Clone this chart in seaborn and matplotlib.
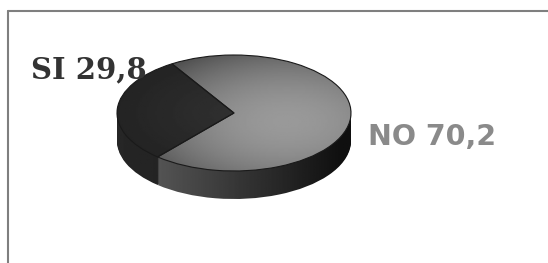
import numpy as np
import matplotlib
matplotlib.use("Agg")
import matplotlib.pyplot as plt
from matplotlib.lines import Line2D
import seaborn as sns

# data
categories = ["SI", "NO"]
values = [29.8, 70.2]
label_colors = ["#333333", "#8a8a8a"]
label_fonts = ["DejaVu Serif", "DejaVu Sans"]

W, H = 548, 263

# pie geometry in pixels (top face ellipse)
cx, cy = 234, 113
rx, ry = 117, 58
depth = 28
start = 122


def top_shade(X, Y, i):
    if i == 0:
        return 0.19 - 0.05 * np.hypot(X, Y)
    d2 = (X - 0.45) ** 2 + (Y + 0.15) ** 2
    return 0.60 - 0.15 * d2


def side_shade(X, Y, i):
    if i == 0:
        return 0.15 - 0.03 * (X + 1)
    return np.clip(0.32 - 0.17 * (X + 0.6), 0.06, 1)


def main():
    sns.set_style("white")

    fig = plt.figure(figsize=(W / 100, H / 100), dpi=100)
    ax = fig.add_axes([0, 0, 1, 1])

    xlim = (-cx / rx, (W - cx) / rx)
    ylim = (-(H - cy) / ry, cy / ry)
    gx = np.linspace(*xlim, 400)
    gy = np.linspace(*ylim, 200)
    X, Y = np.meshgrid(gx, gy)
    extent = (xlim[0], xlim[1], ylim[0], ylim[1])

    # side of the cylinder: stacked copies of the pie, shaded by gradient
    dz = 1.0 / ry
    for k in range(depth, 0, -1):
        wedges, _ = ax.pie(values, startangle=start, counterclock=True,
                           radius=1, center=(0, -k * dz), frame=True,
                           wedgeprops=dict(facecolor="none", edgecolor="none"))
        for i, w in enumerate(wedges):
            img = ax.imshow(side_shade(X, Y, i), cmap="gray", vmin=0, vmax=1,
                            extent=extent, origin="lower", aspect="auto")
            img.set_clip_path(w)

    # top face
    wedges, _ = ax.pie(values, startangle=start, counterclock=True,
                       radius=1, center=(0, 0), frame=True,
                       wedgeprops=dict(facecolor="none", edgecolor="#1a1a1a",
                                       linewidth=0.8))
    for i, w in enumerate(wedges):
        img = ax.imshow(top_shade(X, Y, i), cmap="gray", vmin=0, vmax=1,
                        extent=extent, origin="lower", aspect="auto")
        img.set_clip_path(w)

    ax.set_aspect("auto")
    ax.set_xlim(*xlim)
    ax.set_ylim(*ylim)
    ax.set_axis_off()

    # labels
    labels = ["{} {}".format(c, str(v).replace(".", ",")) for c, v in zip(categories, values)]
    fig.text(31 / W, 1 - 70 / H, labels[0], color=label_colors[0],
             fontfamily=label_fonts[0], fontweight="bold", fontsize=21,
             ha="left", va="center")
    fig.text(368 / W, 1 - 137 / H, labels[1], color=label_colors[1],
             fontfamily=label_fonts[1], fontweight="bold", fontsize=20.5,
             ha="left", va="center")

    # frame lines (top and left)
    fig.add_artist(Line2D([8 / W, 1], [1 - 11 / H, 1 - 11 / H], color="#7f7f7f",
                          linewidth=1.5, transform=fig.transFigure))
    fig.add_artist(Line2D([8 / W, 8 / W], [0, 1 - 11 / H], color="#7f7f7f",
                          linewidth=1.5, transform=fig.transFigure))

    fig.savefig("out.png", dpi=100)


if __name__ == "__main__":
    main()
